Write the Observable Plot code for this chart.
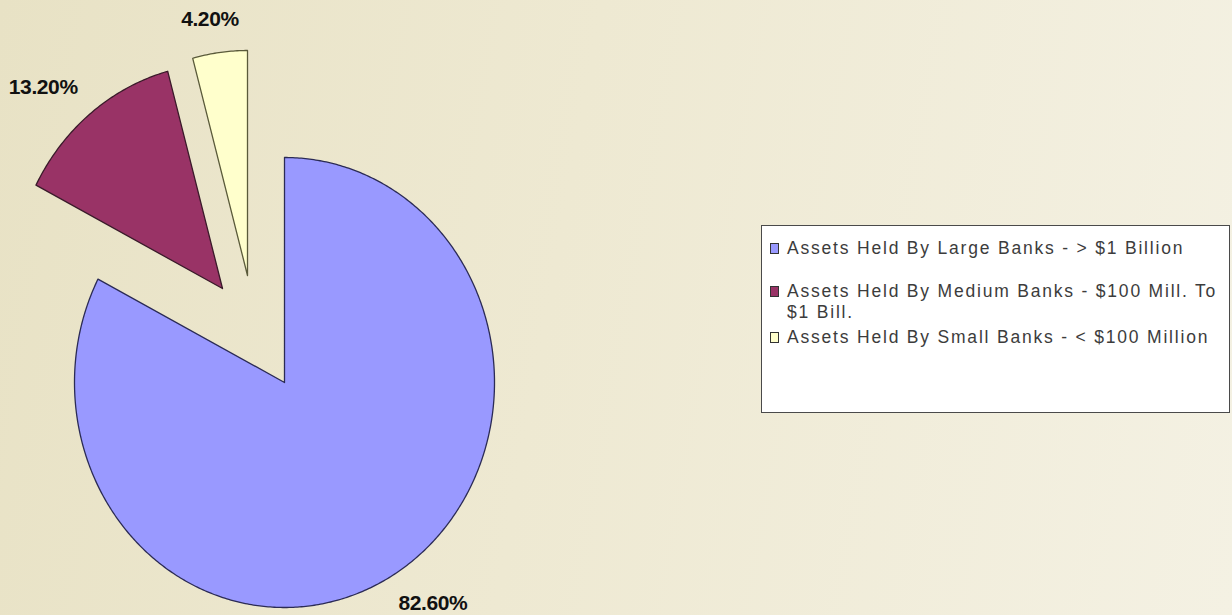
<!DOCTYPE html>
<html>
<head>
<meta charset="utf-8">
<script src="https://cdn.jsdelivr.net/npm/d3@7"></script>
<script src="https://cdn.jsdelivr.net/npm/@observablehq/plot@0.6"></script>
<style>
  html, body { margin: 0; padding: 0; }
  body {
    width: 1232px; height: 615px; overflow: hidden; position: relative;
    background: linear-gradient(100deg, #e8e2c5 0%, #eee9d2 45%, #f4f1e3 100%);
    font-family: "Liberation Sans", Arial, sans-serif;
  }
  #chart { position: absolute; left: 0; top: 0; }
  #legend {
    position: absolute; left: 761px; top: 225px; width: 469px; height: 188px;
    box-sizing: border-box; border: 1.5px solid #4a4a4a; background: #ffffff;
  }
  .row { position: absolute; left: 0; width: 100%; }
  .sw { position: absolute; left: 8px; width: 7px; height: 9px; border: 1px solid #333; }
  .lbl {
    position: absolute; left: 25px; white-space: pre; color: #3c3c3c;
    font-size: 17.5px; line-height: 21px; letter-spacing: 1.8px;
  }
</style>
</head>
<body>
<div id="chart"></div>
<div id="legend"></div>
<script>
// ---- data ----
const categories = [
  "Assets Held By Large Banks - > $1 Billion",
  "Assets Held By Medium Banks - $100 Mill. To $1 Bill.",
  "Assets Held By Small Banks - < $100 Million"
];
const shares = [82.6, 13.2, 4.2];
const colors = ["#9999FF", "#993366", "#FFFFCC"];

// ---- layout (pixels) ----
const W = 1232, H = 615;
const cx = 284, cy = 382, rx = 210, ry = 225;   // pie centre and radii
const explodeX = [0, -62, -37];                  // slice offsets (px)
const explodeY = [0, -94, -107];
const legendTop = [22, 65, 111];                 // legend row offsets inside box
const strokeCols = ["#2b2b55", "#3a1a2a", "#5a5a3a"];

// build slice outlines in pie units (1 = radius)
const total = d3.sum(shares);
let acc = 0;
const outline = [];
const labels = [];
shares.forEach((v, i) => {
  const a0 = acc / total * 2 * Math.PI;
  acc += v;
  const a1 = acc / total * 2 * Math.PI;
  const ox = explodeX[i] / rx, oy = -explodeY[i] / ry;
  const n = Math.max(12, Math.ceil((a1 - a0) / 0.01));
  outline.push({cat: categories[i], x: ox, y: oy});
  for (let k = 0; k <= n; k++) {
    const a = a0 + (a1 - a0) * k / n;
    outline.push({cat: categories[i], x: ox + Math.sin(a), y: oy + Math.cos(a)});
  }
  outline.push({cat: categories[i], x: ox, y: oy});
  const am = (a0 + a1) / 2;
  labels.push({x: ox + 1.36 * Math.sin(am), y: oy + 1.15 * Math.cos(am), text: d3.format(".2f")(v) + "%"});
});

const chart = Plot.plot({
  width: W, height: H,
  margin: 0,
  style: {background: "transparent", fontFamily: "'Liberation Sans', Arial, sans-serif"},
  x: {domain: [-cx / rx, (W - cx) / rx], axis: null},
  y: {domain: [(cy - H) / ry, cy / ry], axis: null},
  color: {type: "ordinal", domain: categories, range: colors},
  marks: categories.map((c, i) =>
    Plot.line(outline.filter(d => d.cat === c), {
      x: "x", y: "y", fill: "cat", stroke: strokeCols[i], strokeWidth: 1.3, curve: "linear"
    })
  ).concat([
    Plot.text(labels, {
      x: "x", y: "y", text: "text", fontSize: 21, fontWeight: "bold", fill: "#111",
      textAnchor: "middle", lineAnchor: "middle"
    })
  ])
});
chart.querySelectorAll("text").forEach(t => t.setAttribute("letter-spacing", "-0.4"));
document.getElementById("chart").appendChild(chart);

// legend
const legend = document.getElementById("legend");
categories.forEach((c, i) => {
  const row = document.createElement("div");
  row.className = "row";
  row.style.top = legendTop[i] + "px";
  const sw = document.createElement("div");
  sw.className = "sw";
  sw.style.background = colors[i];
  sw.style.top = "-5px";
  const lbl = document.createElement("div");
  lbl.className = "lbl";
  lbl.style.top = "-10px";
  lbl.textContent = c.replace(" To ", " To\n");
  row.appendChild(sw);
  row.appendChild(lbl);
  legend.appendChild(row);
});
</script>
</body>
</html>
